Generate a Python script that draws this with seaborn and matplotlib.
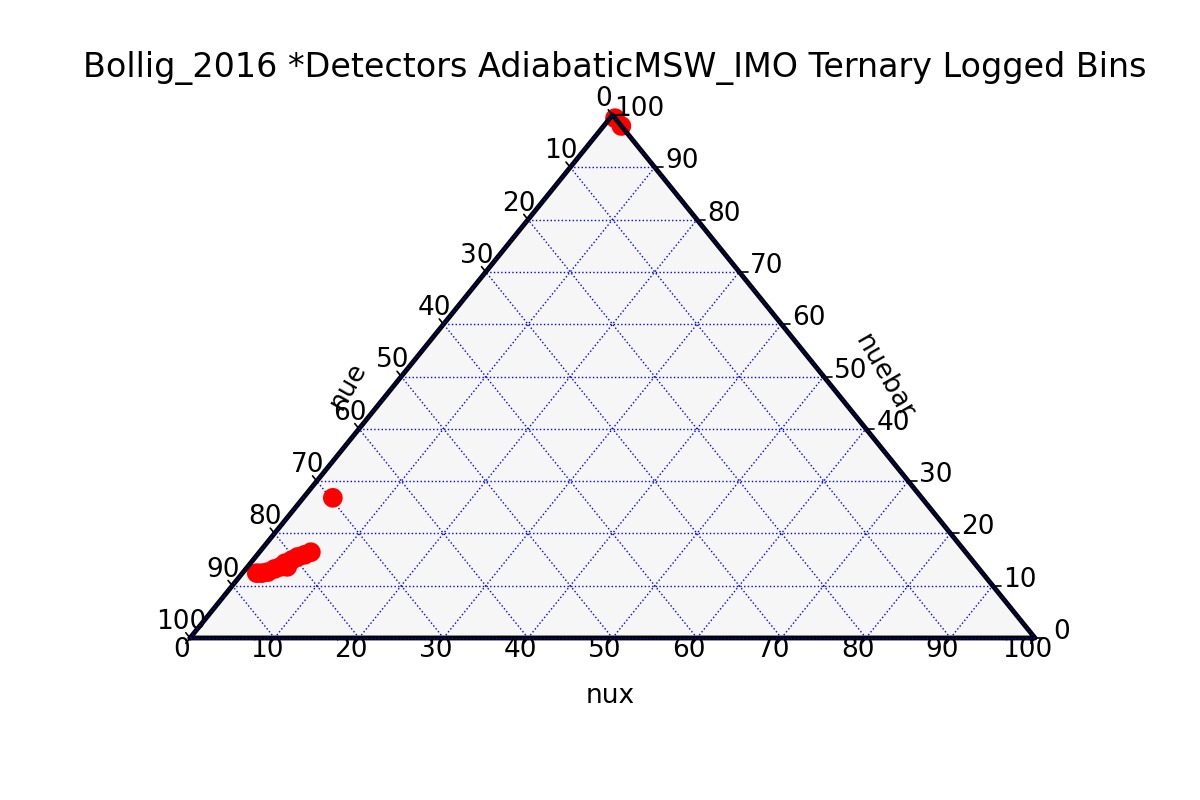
import numpy as np
import pandas as pd
import matplotlib
matplotlib.use("Agg")
import matplotlib.pyplot as plt
import seaborn as sns

# ternary fractions (percent)
nux = [1.7, 2.3, 2.9, 3.4, 3.9, 4.1, 4.7, 4.6, 5.0, 5.6, 6.1, 3.5, 0.6, 2.1]
nuebar = [12.4, 12.4, 12.6, 13.2, 13.6, 14.3, 13.6, 14.9, 15.5, 15.9, 16.4, 26.8, 99.4, 97.9]
nue = [85.9, 85.3, 84.5, 83.4, 82.5, 81.6, 81.7, 80.5, 79.5, 78.5, 77.5, 69.7, 0.0, 0.0]

tick_values = list(range(0, 101, 10))
title = "Bollig_2016 *Detectors AdiabaticMSW_IMO Ternary Logged Bins"

SCALE = 100
H = np.sqrt(3) / 2


def project(b, r):
    """(bottom, right) ternary coords -> cartesian"""
    b = np.asarray(b, dtype=float)
    r = np.asarray(r, dtype=float)
    return b + r / 2, r * H


sns.set_style("white")
plt.rcParams['font.family'] = ['DejaVu Sans']
plt.rcParams['text.color'] = 'black'

fig = plt.figure(figsize=(12, 8), dpi=100)
ax = fig.add_axes([0, 0, 1, 1])
ax.set_xlim(-22.49, 119.53)
ax.set_ylim(-26.83, 105.65)
ax.axis('off')

# background triangle
tx, ty = project([0, SCALE, 0], [0, 0, SCALE])
ax.fill(tx, ty, color='#f6f6f6', zorder=0)

# gridlines
for i in tick_values:
    lines = [
        project([0, SCALE - i], [i, i]),          # constant nuebar
        project([i, i], [0, SCALE - i]),          # constant nux
        project([SCALE - i, 0], [0, SCALE - i]),  # constant nue
    ]
    for lx, ly in lines:
        ax.plot(lx, ly, color='blue', ls=':', lw=1.0, zorder=1)

# data
df = pd.DataFrame({'nux': nux, 'nuebar': nuebar, 'nue': nue})
df['x'], df['y'] = project(df['nux'], df['nuebar'])
sns.scatterplot(data=df, x='x', y='y', color='red', s=200, edgecolor='none',
                ax=ax, zorder=2, legend=False)
ax.axis('off')

# boundary
ax.plot(list(tx) + [tx[0]], list(ty) + [ty[0]], color='black', lw=3.5, zorder=3)
for lx, ly in [project([0, SCALE], [0, 0]), project([SCALE, 0], [0, SCALE]),
               project([0, 0], [0, SCALE])]:
    ax.plot(lx, ly, color='blue', ls=':', lw=1.0, zorder=4)

# ticks and tick labels
fs = 19
tl = 1.0
for v in tick_values:
    # bottom (nux)
    x0, y0 = project(v, 0)
    ax.plot([x0, x0 - tl / 2], [y0, y0 - tl * H], color='black', lw=1.2, zorder=3)
    ax.text(x0 - 0.95, y0 - 1.99, str(v), fontsize=fs, ha='center', va='center')
    # right (nuebar)
    x0, y0 = project(SCALE - v, v)
    ax.plot([x0, x0 + tl], [y0, y0], color='black', lw=1.2, zorder=3)
    ax.text(x0 + 3.2, y0 + 0.99, str(v), fontsize=fs, ha='center', va='center')
    # left (nue), 100 at the bottom
    x0, y0 = project(0, SCALE - v)
    ax.plot([x0, x0 - tl / 2], [y0, y0 + tl * H], color='black', lw=1.2, zorder=3)
    ax.text(x0 - 1.07, y0 + 2.65, str(v), fontsize=fs, ha='center', va='center')

# axis labels
ax.text(49.7, -9.6, 'nux', fontsize=fs, ha='center', va='center')
ax.text(18.7, 41.7, 'nue', fontsize=fs, ha='center', va='center', rotation=60)
ax.text(82.1, 43.2, 'nuebar', fontsize=fs, ha='center', va='center', rotation=-60)

fig.text(0.5125, 0.915, title, fontsize=24, ha='center', va='center')

fig.savefig('out.png', dpi=100)
